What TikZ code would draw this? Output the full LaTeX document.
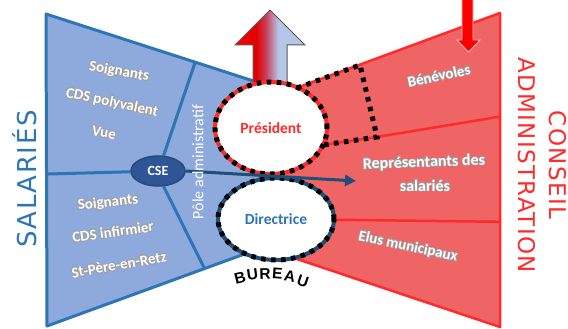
\documentclass[tikz,border=0pt]{standalone}
\usepackage{fontspec}
\setmainfont{Carlito}
\newfontfamily\titlefont{DejaVu Sans}[LetterSpace=6]
\newfontfamily\burfont{Liberation Sans}
\usepackage{contour}
\contourlength{0.5pt}
\usetikzlibrary{shapes.geometric,arrows.meta,calc}
\definecolor{bfill}{HTML}{8EA9DB}
\definecolor{bline}{HTML}{2E75B6}
\definecolor{bdark}{HTML}{1F4E79}
\definecolor{csefill}{HTML}{2F5597}
\definecolor{rfill}{HTML}{EF6464}
\definecolor{rline}{HTML}{FF2B2B}
\definecolor{ablue}{HTML}{B4C7E7}
\definecolor{amid}{HTML}{C8405C}
\pgfdeclarehorizontalshading{upshade}{100bp}{color(0bp)=(red); color(25bp)=(red); color(40bp)=(red!88!black); color(47bp)=(amid); color(56bp)=(ablue); color(100bp)=(ablue)}
\pgfdeclarelayer{background}
\pgfsetlayers{background,main}
\newcommand\shtxt[1]{\contour{gray!75}{#1}}
\begin{document}
\begin{tikzpicture}[x=1pt,y=-1pt,
  lbl/.style={text=white,font=\bfseries\fontsize{15}{17}\selectfont,inner sep=0pt},
  bedge/.style={draw=bline,line width=3pt,line join=round},
  redge/.style={draw=rline,line width=2.5pt,line join=round},
  dots/.style={draw=black,line width=5pt,dash pattern=on 4.5pt off 5.5pt},
  bigell/.style={ellipse,fill=white,inner sep=0pt},
  bur/.style={font=\burfont\bfseries\fontsize{15.5}{18}\selectfont,inner sep=0pt}]
\useasboundingbox (0,0) rectangle (568,329);

% ellipses (main layer)
\node[bigell,minimum width=112pt,minimum height=92pt] (pres) at (271,128) {};
\node[bigell,minimum width=116pt,minimum height=82pt] (dir) at (276,219) {};
\draw[rline,line width=4pt] (pres.center) ellipse [x radius=56pt,y radius=46pt];
\draw[dots] (pres.center) ellipse [x radius=56pt,y radius=46pt];
\draw[bdark,line width=4pt] (dir.center) ellipse [x radius=58pt,y radius=41pt];
\draw[dots] (dir.center) ellipse [x radius=58pt,y radius=41pt];
\node[ellipse,fill=csefill,draw=bdark,line width=1.5pt,minimum width=54pt,minimum height=30pt,inner sep=0pt] (cse) at (158,171) {};

\begin{pgfonlayer}{background}
  % blue region
  \coordinate (bTL) at (46,14);
  \coordinate (bTR) at (272,87);
  \coordinate (bBR) at (272,244);
  \coordinate (bBL) at (47,326);
  \fill[bfill] (bTL) -- (bTR) -- (bBR) -- (bBL) -- cycle;
  \draw[bedge] (bTR) -- (bTL) -- (bBL) -- (bBR);
  \coordinate (bt1) at ($(bTL)!0.66!(bTR)$);
  \coordinate (bb1) at ($(bBL)!0.70!(bBR)$);
  \coordinate (bl1) at ($(bTL)!0.513!(bBL)$);
  \draw[bedge] (bt1) -- (cse.70);
  \draw[bedge] (cse.-70) -- (bb1);
  \draw[bedge] (bl1) -- (cse);
  % red region
  \coordinate (rTL) at (272,97);
  \coordinate (rTR) at (500,13);
  \coordinate (rBR) at (500,327);
  \coordinate (rBL) at (276,252);
  \fill[rfill] (rTL) -- (rTR) -- (rBR) -- (rBL) -- cycle;
  \draw[redge] (rTL) -- (rTR) -- (rBR) -- (rBL);
  \coordinate (d1) at (297,88);
  \coordinate (d2) at (360,65);
  \coordinate (d3) at (377,137);
  \coordinate (d4) at (323,145);
  \coordinate (r1) at ($(rTR)!0.33!(rBR)$);
  \coordinate (r2) at ($(rTR)!0.665!(rBR)$);
  \draw[redge] (d3) -- (r1);
  \draw[redge] (d4) -- (d3);
  \draw[redge] (dir.center) -- (r2);
  % up block arrow
  \draw[shading=upshade,draw=gray!70!black,line width=1pt,line join=miter]
    (253,95) -- (253,45) -- (235,45) -- (270,10) -- (305,45) -- (287,45) -- (287,95) -- cycle;
\end{pgfonlayer}

% dotted box
\draw[dots] (d1) -- (d2) -- (d3) -- (d4);

% CSE arrow
\coordinate (tip) at (356,181);
\draw[bdark,line width=3pt,-{Triangle[length=11pt,width=11pt]}] (cse.east) -- (tip);

% down arrow
\draw[fill=red,draw=red!25!white,line width=0.8pt]
  (462,-2) -- (462,40) -- (457,40) -- (468.5,52) -- (480,40) -- (473,40) -- (473,-2);

% ellipse labels
\node[font=\bfseries\fontsize{15.5}{17}\selectfont,text=rline] (prest) at (pres.center) {Président};
\node[font=\bfseries\fontsize{15.5}{17}\selectfont,text=bline] (dirt) at (dir.center) {Directrice};
\node[font=\bfseries\fontsize{14}{16}\selectfont,text=white] (cset) at (cse.center) {CSE};

% blue labels
\node[lbl,rotate=-10] (s1) at (119,72) {\shtxt{Soignants}};
\node[lbl,rotate=-12] (s2) at (112,103) {\shtxt{CDS polyvalent}};
\node[lbl,rotate=-10] (s3) at (104,133) {\shtxt{Vue}};
\node[lbl,rotate=6] (s4) at (108,203) {\shtxt{Soignants}};
\node[lbl,rotate=8] (s5) at (113,232) {\shtxt{CDS infirmier}};
\node[lbl,rotate=10] (s6) at (119,265) {\shtxt{St-Père-en-Retz}};
\node[text=white,font=\fontsize{16}{18}\selectfont,inner sep=0pt,rotate=90] (pole) at (198,162) {Pôle administratif};

% red labels
\node[lbl,rotate=12] (ben) at (439,76) {\shtxt{Bénévoles}};
\node[lbl,rotate=2,font=\bfseries\fontsize{16}{18}\selectfont] (rep1) at (424,163) {\shtxt{Représentants des}};
\node[lbl,font=\bfseries\fontsize{16}{18}\selectfont] (rep2) at (425,186) {\shtxt{salariés}};
\node[lbl,rotate=-12] (elus) at (408,247) {\shtxt{Elus municipaux}};

% titles
\node[rotate=90,text=bline,font=\titlefont\fontsize{26}{30}\selectfont,inner sep=0pt] (sal) at (25,179) {SALARIÉS};
\node[rotate=-90,text=rline,align=center,font=\titlefont\fontsize{23}{31}\selectfont,inner sep=0pt] (ca) at (542,165) {CONSEIL\\ADMINISTRATION};

% BUREAU
\node[bur,rotate=14] (u1) at (240,277.5) {B};
\node[bur,rotate=8] (u2) at (252.5,274.5) {U};
\node[bur,rotate=2] (u3) at (265,273.5) {R};
\node[bur,rotate=-4] (u4) at (277.5,274) {E};
\node[bur,rotate=-11] (u5) at (290,276.5) {A};
\node[bur,rotate=-19] (u6) at (303,281) {U};
\end{tikzpicture}
\end{document}
